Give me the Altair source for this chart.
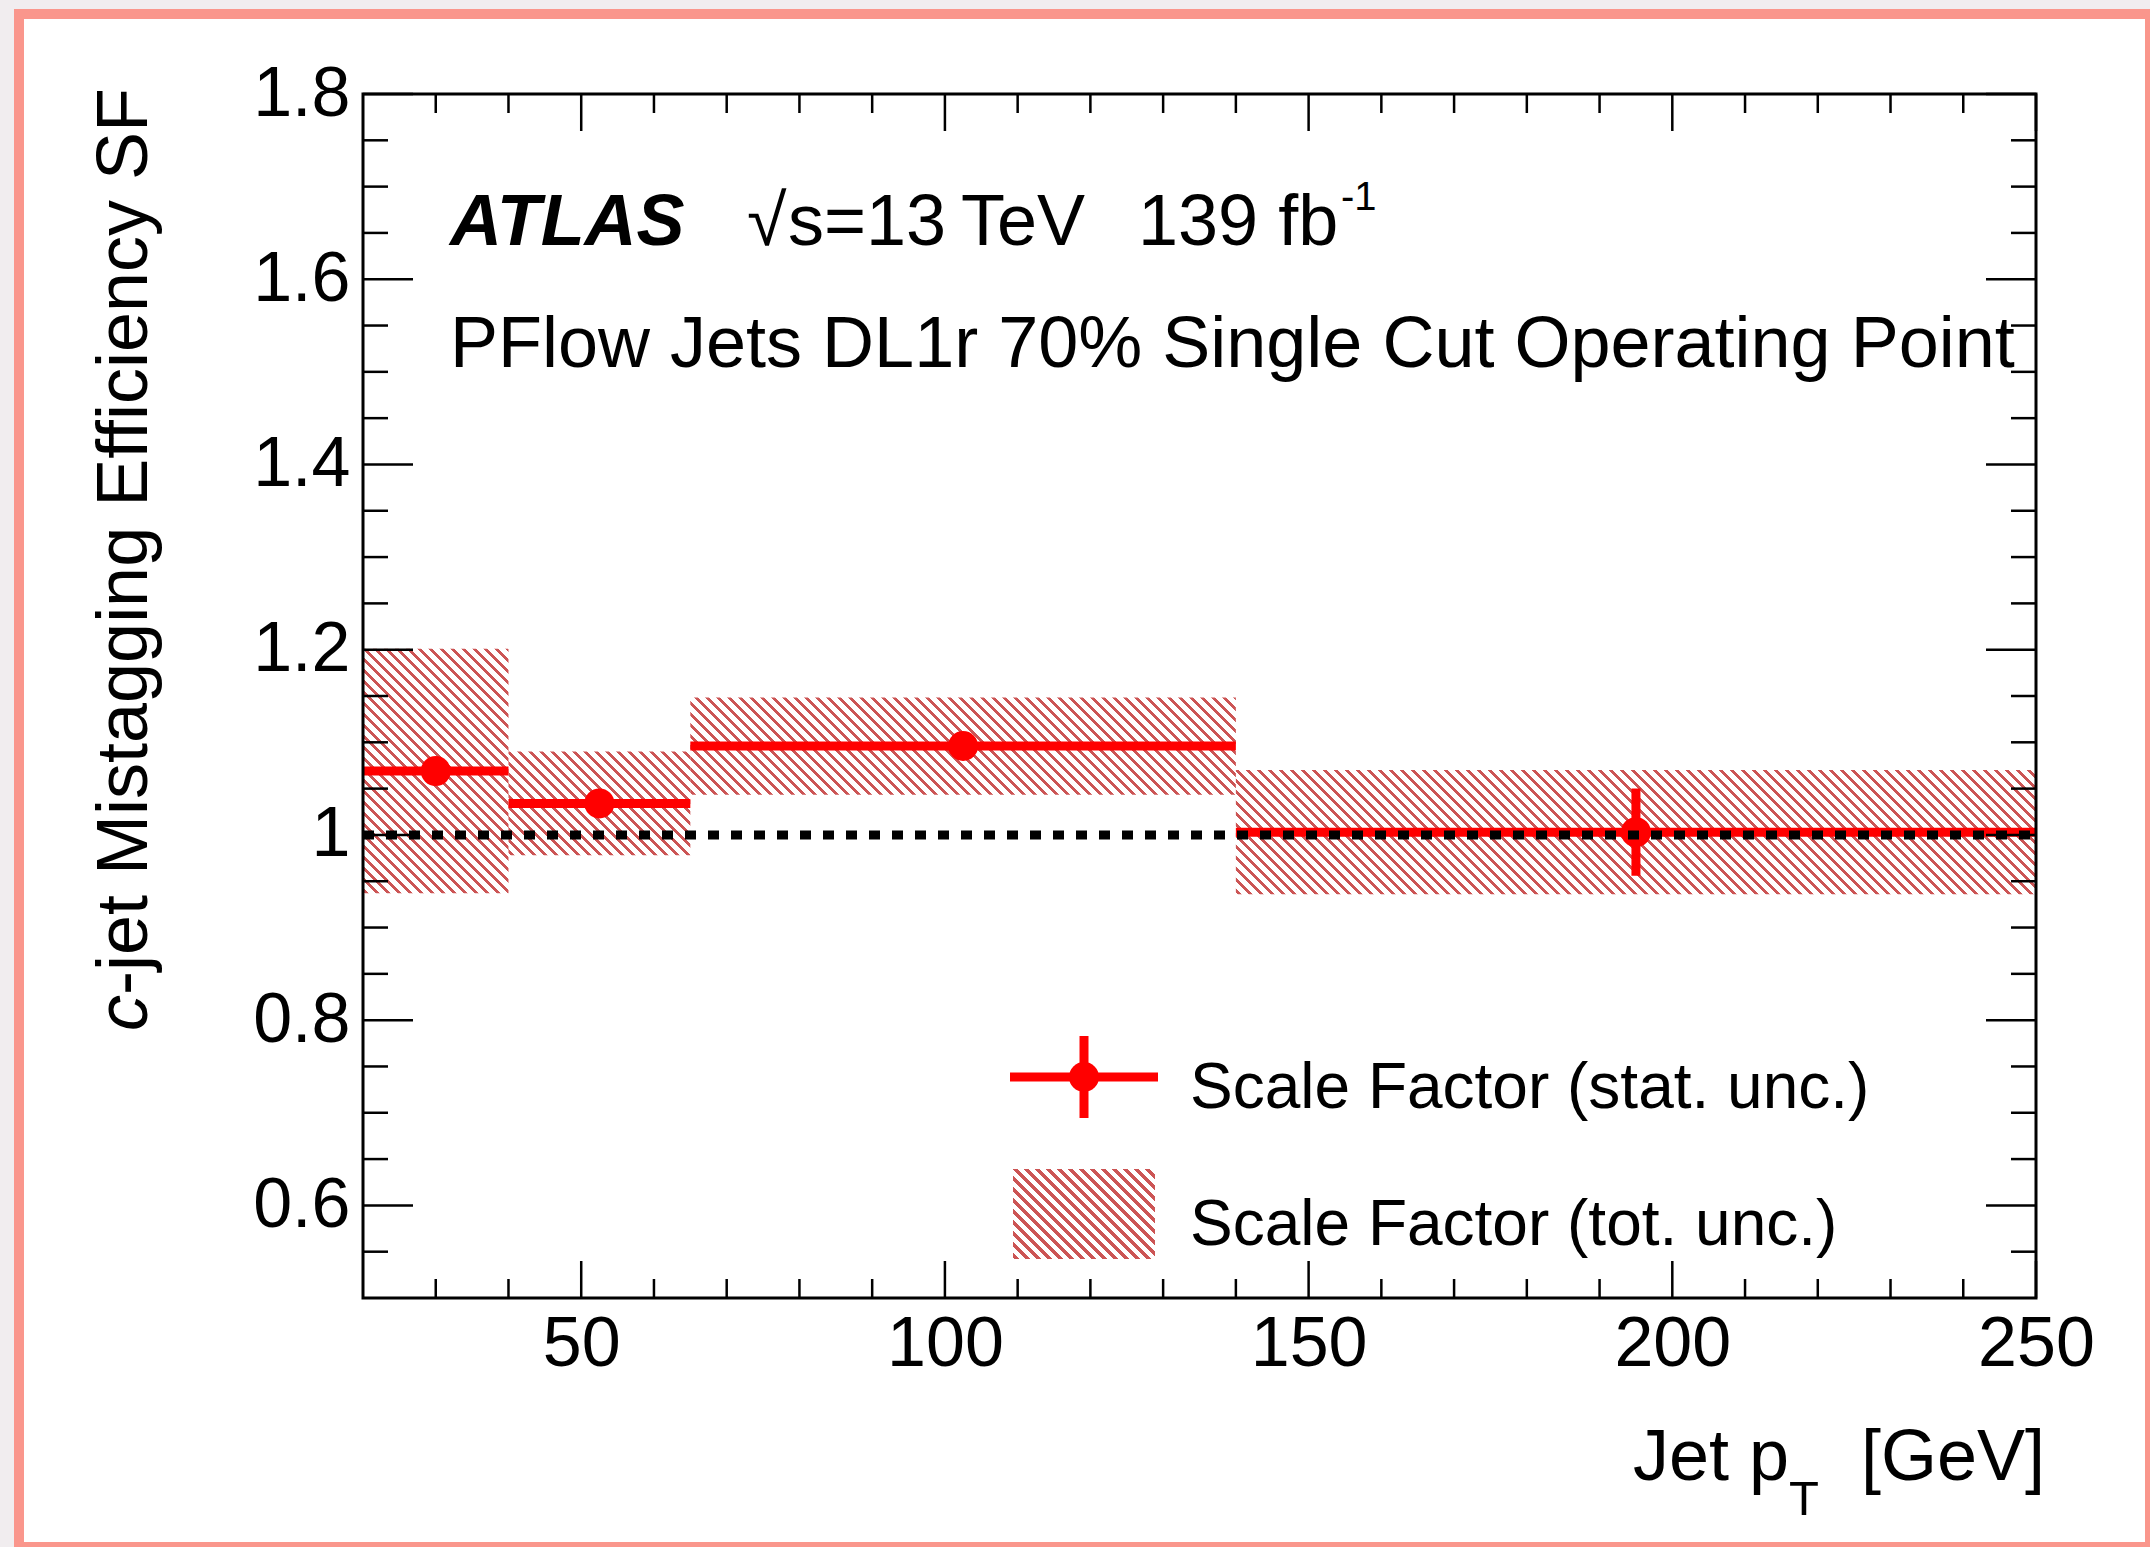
import altair as alt
import pandas as pd

FONT = "Liberation Sans"

# ---------------- data ----------------
bin_lo = [20, 40, 65, 140]
bin_hi = [40, 65, 140, 250]
bin_center = [30, 52.5, 102.5, 195]
sf_value = [1.069, 1.034, 1.096, 1.003]
stat_unc = [0.010, 0.010, 0.012, 0.047]
tot_unc = [0.132, 0.056, 0.0525, 0.067]

x_major = [50, 100, 150, 200, 250]
x_minor = [30, 40, 60, 70, 80, 90, 110, 120, 130, 140, 160, 170, 180, 190,
           210, 220, 230, 240]
y_major = [0.6, 0.8, 1.0, 1.2, 1.4, 1.6, 1.8]
y_minor = [0.55, 0.65, 0.7, 0.75, 0.85, 0.9, 0.95, 1.05, 1.1, 1.15, 1.25,
           1.3, 1.35, 1.45, 1.5, 1.55, 1.65, 1.7, 1.75]
ref_line = [1.0]

# ---------------- layout ----------------
W, H = 1673, 1204
X0, X1 = 20, 250
Y0, Y1 = 0.5, 1.8
RED = "#ff0000"
HATCH = "#cc5555"
PINK = "#fa968c"

xs = alt.Scale(domain=[X0, X1], nice=False, zero=False)
ys = alt.Scale(domain=[Y0, Y1], nice=False, zero=False)
xaxis = alt.Axis(values=x_major, format="d", title=None, labelFont=FONT,
                 labelFontSize=70, labelColor="black", labelPadding=12,
                 ticks=False, tickSize=0, domain=False, grid=False,
                 labelFlush=False, labelOverlap=False, labelLimit=400, zindex=1)
yaxis = alt.Axis(values=y_major, format="~g", title=None, labelFont=FONT,
                 labelFontSize=70, labelColor="black", labelPadding=13,
                 ticks=False, tickSize=0, domain=False, grid=False,
                 labelFlush=False, labelOverlap=False, labelLimit=400, zindex=1)


def X(f):
    return alt.X(f, type="quantitative", scale=xs, axis=xaxis)


def Y(f):
    return alt.Y(f, type="quantitative", scale=ys, axis=yaxis)


def hatch(w, h, period=11.0, line=4.2, color=HATCH):
    L = w + h
    k = (w + h) / (w * w + h * h)
    clear = "rgba(255,255,255,0)"
    stops = []
    pos = 2.0
    stops.append({"offset": 0, "color": clear})
    while pos < L:
        a = pos / L
        b = min((pos + line) / L, 1.0)
        c = min((pos + period) / L, 1.0)
        stops += [{"offset": a, "color": clear}, {"offset": a, "color": color},
                  {"offset": b, "color": color}, {"offset": b, "color": clear},
                  {"offset": c, "color": clear}]
        pos += period
    return {"gradient": "linear", "x1": 0, "y1": 1,
            "x2": w * k, "y2": 1 - h * k, "stops": stops}


df = pd.DataFrame({"lo": bin_lo, "hi": bin_hi, "x": bin_center,
                   "sf": sf_value, "stat": stat_unc, "tot": tot_unc})
df["tlo"] = df.sf - df.tot
df["thi"] = df.sf + df.tot
df["slo"] = df.sf - df.stat
df["shi"] = df.sf + df.stat

one = pd.DataFrame({"t": [""]})
layers = []

# page frame (white card with salmon border)
layers.append(alt.Chart(one).mark_rect(fill="white", stroke=PINK, strokeWidth=10).encode(
    x=alt.value(19 - 363), x2=alt.value(2150 - 363),
    y=alt.value(14 - 94), y2=alt.value(1547 - 94)))

# hatched total-uncertainty boxes
for i in range(len(bin_lo)):
    w = (bin_hi[i] - bin_lo[i]) / (X1 - X0) * W
    h = 2 * tot_unc[i] / (Y1 - Y0) * H
    layers.append(
        alt.Chart(df.iloc[[i]]).mark_rect(fill=hatch(w, h), strokeWidth=0).encode(
            x=X("lo"), x2="hi", y=Y("tlo"), y2="thi"))

# scale factor with stat. uncertainty
layers.append(alt.Chart(df).mark_rule(color=RED, strokeWidth=9, strokeCap="butt").encode(
    x=X("lo"), x2="hi", y=Y("sf")))
layers.append(alt.Chart(df).mark_rule(color=RED, strokeWidth=9, strokeCap="butt").encode(
    x=X("x"), y=Y("slo"), y2="shi"))
layers.append(alt.Chart(df).mark_circle(color=RED, size=900, opacity=1).encode(
    x=X("x"), y=Y("sf")))

# dotted line at 1
ref = pd.DataFrame({"a": [X0], "b": [X1], "v": ref_line})
layers.append(alt.Chart(ref).mark_rule(color="black", strokeWidth=9,
                                       strokeDash=[11, 12], strokeCap="butt").encode(
    x=X("a"), x2="b", y=Y("v")))

# plot frame
layers.append(alt.Chart(one).mark_rect(fill=None, stroke="black", strokeWidth=3).encode(
    x=alt.value(0), x2=alt.value(W), y=alt.value(0), y2=alt.value(H)))

# ticks (inside, mirrored)
for vals, ln in ((x_major, 37), (x_minor, 19)):
    d = pd.DataFrame({"v": vals})
    layers.append(alt.Chart(d).mark_rule(color="black", strokeWidth=2.5).encode(
        x=X("v"), y=alt.value(H), y2=alt.value(H - ln)))
    layers.append(alt.Chart(d).mark_rule(color="black", strokeWidth=2.5).encode(
        x=X("v"), y=alt.value(0), y2=alt.value(ln)))
for vals, ln in ((y_major, 50), (y_minor, 25)):
    d = pd.DataFrame({"v": vals})
    layers.append(alt.Chart(d).mark_rule(color="black", strokeWidth=2.5).encode(
        y=Y("v"), x=alt.value(0), x2=alt.value(ln)))
    layers.append(alt.Chart(d).mark_rule(color="black", strokeWidth=2.5).encode(
        y=Y("v"), x=alt.value(W), x2=alt.value(W - ln)))


def label(txt, x, y, size=72, align="left", **kw):
    return alt.Chart(pd.DataFrame({"t": [txt]})).mark_text(
        font=FONT, fontSize=size, align=align, baseline="alphabetic",
        color="black", **kw).encode(text="t:N", x=alt.value(x), y=alt.value(y))


# header texts
layers.append(label("ATLAS", 87, 151, fontStyle="italic", fontWeight="bold"))
layers.append(label("\u221a", 384, 151))
layers.append(label("s=13", 425, 151))
layers.append(label("TeV", 598, 151))
layers.append(label("139 fb", 775, 151))
layers.append(label("-1", 978, 116, size=40))
layers.append(label("PFlow Jets DL1r 70% Single Cut Operating Point", 87, 273))

# axis titles
layers.append(label("Jet p", 1270, 1386))
layers.append(label("T", 1426, 1421, size=49))
layers.append(label("[GeV]", 1498, 1386))
layers.append(label("c", -216, 937, angle=270, fontStyle="italic"))
layers.append(label("-jet Mistagging Efficiency SF", -216, 901, angle=270))

# legend
layers.append(alt.Chart(one).mark_rule(color=RED, strokeWidth=9, strokeCap="butt").encode(
    x=alt.value(647), x2=alt.value(795), y=alt.value(983)))
layers.append(alt.Chart(one).mark_rule(color=RED, strokeWidth=9, strokeCap="butt").encode(
    x=alt.value(721), y=alt.value(942), y2=alt.value(1024)))
layers.append(alt.Chart(one).mark_circle(color=RED, size=900, opacity=1).encode(
    x=alt.value(721), y=alt.value(983)))
layers.append(label("Scale Factor (stat. unc.)", 827, 1014, size=64))
layers.append(alt.Chart(one).mark_rect(fill=hatch(142, 90), strokeWidth=0).encode(
    x=alt.value(650), x2=alt.value(792), y=alt.value(1075), y2=alt.value(1165)))
layers.append(label("Scale Factor (tot. unc.)", 827, 1151, size=64))

chart = alt.layer(*layers).properties(
    width=W, height=H,
    padding={"left": 363, "top": 94, "right": 2150 - 363 - W, "bottom": 1547 - 94 - H},
    autosize=alt.AutoSizeParams(type="none"),
    background="#f1edef",
).configure_view(strokeWidth=0)

chart.save("out.html", embed_options={"renderer": "svg", "actions": False})
